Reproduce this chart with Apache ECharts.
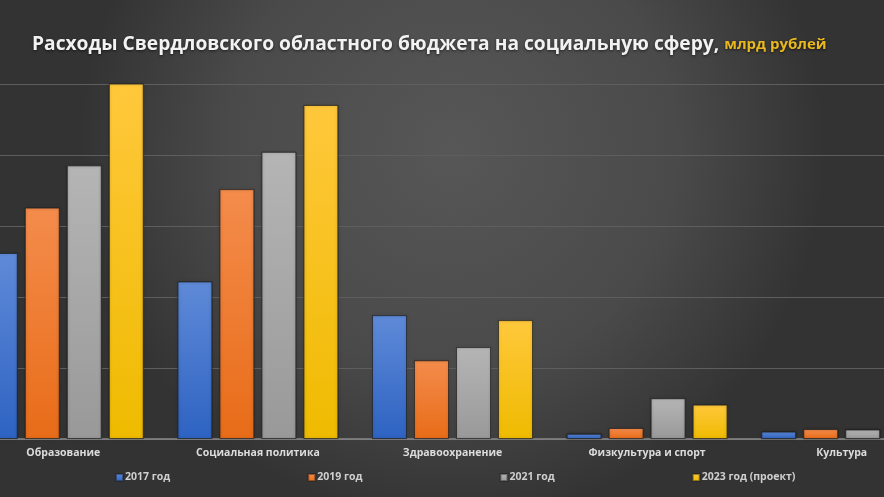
<!DOCTYPE html>
<html><head><meta charset="utf-8">
<script src="https://cdn.jsdelivr.net/npm/echarts@6/dist/echarts.min.js"></script>
<style>html,body{margin:0;padding:0;background:#3a3a3a;width:884px;height:497px;overflow:hidden;position:relative}#c{position:absolute;left:-34px;top:0;width:973px;height:497px}</style>
</head><body><div id="c"></div>
<script>
const categories = ['Образование','Социальная политика','Здравоохранение','Физкультура и спорт','Культура'];
const seriesNames = ['2017 год','2019 год','2021 год','2023 год (проект)'];
const v2017 = [52.4, 44.4, 34.9, 1.5, 2.1];
const v2019 = [65.2, 70.4, 22.2, 3.1, 2.8];
const v2021 = [77.1, 80.9, 25.9, 11.5, 2.7];
const v2023 = [100.3, 94.1, 33.5, 9.7, 3.3];
const yTicks = [0, 20, 40, 60, 80, 100];

const grads = [
  ['#5f8ad8','#2e63c2'],
  ['#f48c4c','#e86c18'],
  ['#b5b5b5','#999999'],
  ['#ffc83c','#efbb00']
];
const allVals = [v2017, v2019, v2021, v2023];
const chart = echarts.init(document.getElementById('c'));
chart.setOption({
  backgroundColor: {type:'radial', x:0.5, y:0.3, r:0.75, colorStops:[{offset:0,color:'#575757'},{offset:0.6,color:'#4a4a4a'},{offset:1,color:'#333333'}]},
  title: {
    text: '{a|Расходы Свердловского областного бюджета на социальную сферу,} {b|млрд рублей}',
    left: 61, top: 30,
    textStyle: {rich: {
      a: {fontFamily:'Open Sans', fontWeight:'bold', fontSize:19.2, color:'#f2f2f2', textShadowColor:'rgba(0,0,0,0.6)', textShadowBlur:3, textShadowOffsetY:1},
      b: {fontFamily:'Open Sans', fontWeight:'bold', fontSize:15, color:'#e8b81e', textShadowColor:'rgba(0,0,0,0.6)', textShadowBlur:3, textShadowOffsetY:1}
    }}
  },
  legend: {
    data: seriesNames, left: 144, top: 467, itemWidth: 7, itemHeight: 7, itemGap: 137,
    icon: 'rect',
    textStyle: {fontFamily:'Open Sans', fontWeight:'bold', fontSize:10.5, color:'#cfcfcf', padding:[0,0,0,-3]}
  },
  grid: {left: 0, right: 0, top: 84, bottom: 58, containLabel: false},
  xAxis: {
    type:'category', data: categories,
    axisTick:{show:false},
    axisLine:{lineStyle:{color:'#8a8a8a', width:1.5}},
    axisLabel:{margin:9, fontFamily:'Open Sans', fontWeight:'bold', fontSize:10.5, color:'#dcdcdc', interval:0}
  },
  yAxis: {
    type:'value', min: yTicks[0], max: yTicks[yTicks.length-1], interval: yTicks[1]-yTicks[0],
    axisLabel:{show:false}, axisLine:{show:false}, axisTick:{show:false},
    splitLine:{lineStyle:{color:'#5e5e5e', width:1}}
  },
  series: seriesNames.map((n,i)=>({
    name:n, type:'bar', data: allVals[i], barWidth:35, barGap:'20%',
    itemStyle:{
      color:{type:'linear',x:0,y:0,x2:0,y2:1,colorStops:[{offset:0,color:grads[i][0]},{offset:1,color:grads[i][1]}]},
      borderColor:'rgba(30,30,30,0.45)', borderWidth:1,
      shadowColor:'rgba(0,0,0,0.4)', shadowBlur:3
    }
  }))
});
</script></body></html>
